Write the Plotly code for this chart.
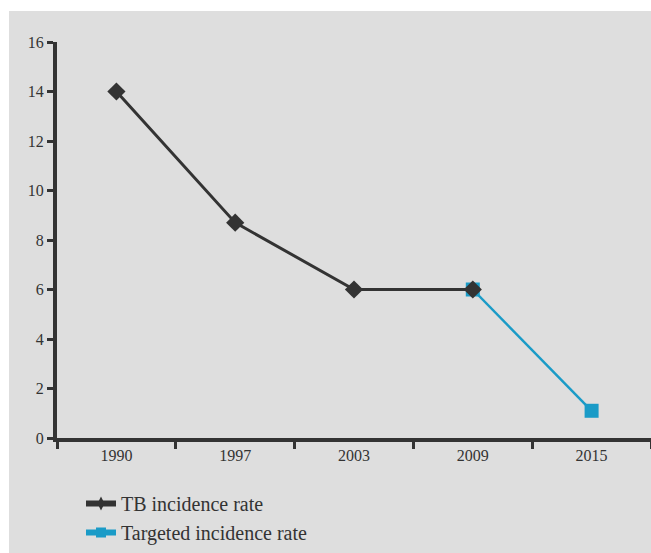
import plotly.graph_objects as go

categories = ["1990", "1997", "2003", "2009", "2015"]
tb_years = ["1990", "1997", "2003", "2009"]
tb_values = [14, 8.7, 6, 6]
target_years = ["2009", "2015"]
target_values = [6, 1.1]
y_ticks = [0, 2, 4, 6, 8, 10, 12, 14, 16]

TB_COLOR = "#333333"
TARGET_COLOR = "#1a9bc7"

W, H = 651, 553
ML, MR, MT, MB = 57, 0, 42, 115
pw = W - ML - MR
ph = H - MT - MB

fig = go.Figure()
fig.add_trace(go.Scatter(
    x=target_years, y=target_values, name="Targeted incidence rate",
    mode="lines+markers", showlegend=False,
    line=dict(color=TARGET_COLOR, width=2.5),
    marker=dict(symbol="square", size=14, color=TARGET_COLOR),
))
fig.add_trace(go.Scatter(
    x=tb_years, y=tb_values, name="TB incidence rate",
    mode="lines+markers", showlegend=False,
    line=dict(color=TB_COLOR, width=3),
    marker=dict(symbol="diamond", size=14, color=TB_COLOR),
))
# legend entries (thicker key lines, as in the original)
fig.add_trace(go.Scatter(
    x=[None], y=[None], name="TB incidence rate", mode="lines+markers",
    legendrank=1, line=dict(color=TB_COLOR, width=6),
    marker=dict(symbol="diamond-tall", size=10, color=TB_COLOR),
))
fig.add_trace(go.Scatter(
    x=[None], y=[None], name="Targeted incidence rate", mode="lines+markers",
    legendrank=2, line=dict(color=TARGET_COLOR, width=6),
    marker=dict(symbol="square", size=10, color=TARGET_COLOR),
))

# grey panel background
fig.add_shape(type="rect", xref="paper", yref="paper", layer="below",
              x0=(9 - ML) / pw, x1=(W + 5 - ML) / pw,
              y0=-(H + 5 - MT - ph) / ph, y1=1 + (MT - 11) / ph,
              fillcolor="#dedede", line_width=0)

fig.update_layout(
    width=W, height=H,
    margin=dict(l=ML, r=MR, t=MT, b=MB),
    paper_bgcolor="white", plot_bgcolor="rgba(0,0,0,0)",
    font=dict(family="Liberation Serif", color="#333333", size=16),
    showlegend=True,
    legend=dict(x=(81 - ML) / pw, y=-(484 - MT - ph) / ph, xanchor="left", yanchor="top",
                bgcolor="rgba(0,0,0,0)", font=dict(size=20, color="#333333"),
                itemwidth=30, tracegroupgap=0),
)
fig.update_xaxes(
    type="category", categoryorder="array", categoryarray=categories,
    range=[-0.5, 4.5], showgrid=False, zeroline=False,
    showline=True, linecolor="#333333", linewidth=4,
    ticks="outside", tickson="boundaries", ticklen=7, tickwidth=3, tickcolor="#333333",
    tickfont=dict(size=16), fixedrange=True,
)
fig.update_yaxes(
    range=[0, 16], tickvals=y_ticks, showgrid=False, zeroline=False,
    showline=True, linecolor="#333333", linewidth=4,
    ticks="outside", ticklen=6, tickwidth=3, tickcolor="#333333",
    tickfont=dict(size=16), fixedrange=True,
)
fig.write_html("out.html", config={"displayModeBar": False},
               post_script="document.body.style.margin='0';document.body.style.overflow='hidden';")
